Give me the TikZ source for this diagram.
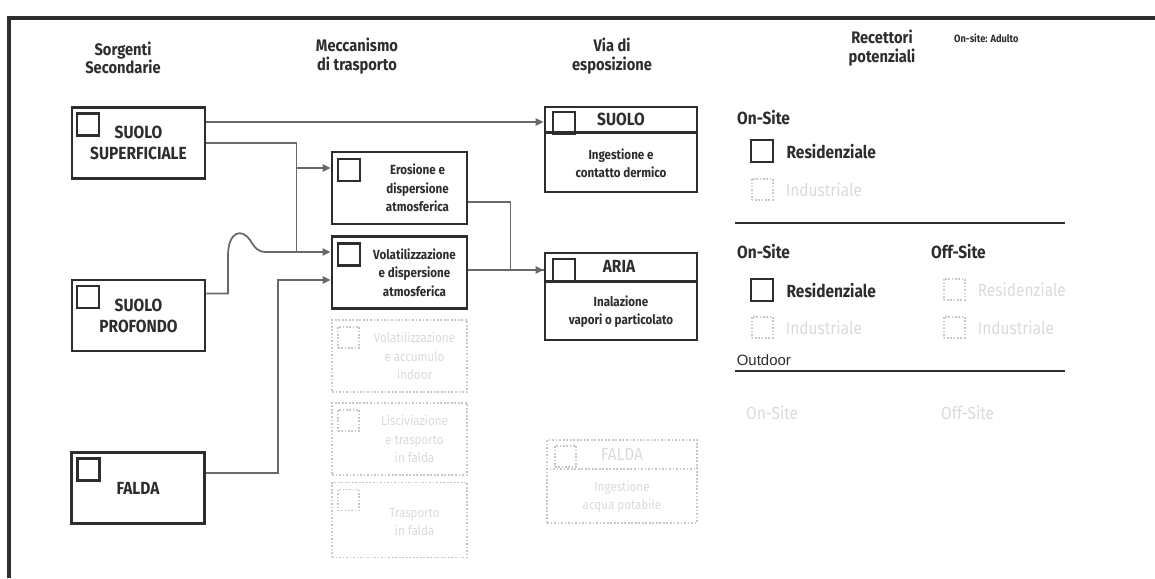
\documentclass[tikz,border=0pt]{standalone}
\usepackage{fontspec}
\setmainfont{Fira Sans}[FakeStretch=0.88]
\newfontfamily\arialfont{Liberation Sans}
\usetikzlibrary{arrows.meta,positioning,calc}
\definecolor{boxGray}{RGB}{45,45,45}
\definecolor{textGray}{RGB}{45,45,45}
\definecolor{lineGray}{RGB}{105,105,105}
\definecolor{fadeGray}{RGB}{200,200,200}
\definecolor{fadeText}{RGB}{218,218,218}

\begin{document}
\begin{tikzpicture}[x=0.02cm, y=-0.02cm, >={Triangle[length=4.5pt, width=4pt]},
    hdr/.style={align=center, font=\fontsize{9.5}{10.5}\selectfont\bfseries, text=textGray},
    srcbox/.style={draw=boxGray, line width=1.6pt, minimum width=2.66cm, minimum height=1.42cm, align=center, font=\fontsize{10}{12}\selectfont\bfseries, text=textGray},
    mechbox/.style={draw=boxGray, line width=1.6pt, minimum width=2.7cm, minimum height=1.44cm},
    fadebox/.style={draw=fadeGray, densely dotted, line width=1pt, minimum width=2.7cm, minimum height=1.44cm},
    expbox/.style={draw=boxGray, line width=1.6pt, minimum width=3.04cm},
    chk/.style={draw=boxGray, line width=1.4pt, minimum size=0.44cm, inner sep=0, anchor=north west},
    fadechk/.style={draw=fadeGray, densely dotted, line width=0.9pt, minimum size=0.42cm, inner sep=0, anchor=north west},
    smalltxt/.style={align=center, font=\fontsize{7.5}{10.5}\selectfont\bfseries, text=textGray},
    fadetxt/.style={align=center, font=\fontsize{7.5}{10.5}\selectfont, text=fadeText},
    bigtxt/.style={font=\fontsize{10}{12}\selectfont\bfseries, text=textGray},
    rcp/.style={anchor=west, font=\fontsize{10}{12}\selectfont\bfseries, text=textGray},
    rcpfade/.style={anchor=west, font=\fontsize{10}{12}\selectfont, text=fadeText},
    conn/.style={draw=lineGray, line width=1pt},
  ]
  \useasboundingbox (0,0) rectangle (1155,578);
  \draw[boxGray, line width=1.8pt] (9,578) -- (9,18) -- (1155,18);

  % column titles
  \node[hdr] (h-src) at (123,58) {Sorgenti\\Secondarie};
  \node[hdr] (h-mech) at (357,56) {Meccanismo\\di trasporto};
  \node[hdr] (h-exp) at (612,56) {Via di\\esposizione};
  \node[hdr] (h-rec) at (882,48) {Recettori\\potenziali};
  \node[anchor=west, font=\fontsize{6}{7}\selectfont\bfseries, text=textGray] (h-adult) at (948,38) {On-site: Adulto};

  % secondary sources
  \node[srcbox] (sup) at (138.5,143) {SUOLO\\SUPERFICIALE};
  \node[srcbox] (prof) at (138.5,315.5) {SUOLO\\PROFONDO};
  \node[srcbox] (falda) at (138,488) {FALDA};
  \node[chk] (sup-c) at ($(sup.north west)+(5,6)$) {};
  \node[chk] (prof-c) at ($(prof.north west)+(5,6)$) {};
  \node[chk] (falda-c) at ($(falda.north west)+(6,6)$) {};

  % transport mechanisms
  \node[mechbox] (eros) at (399.5,188) {};
  \node[mechbox] (vola) at (399.5,272.5) {};
  \node[chk] (eros-c) at ($(eros.north west)+(6,7)$) {};
  \node[chk] (vola-c) at ($(vola.north west)+(6,7)$) {};
  \node[smalltxt] (eros-t) at ($(eros.center)+(18,0)$) {Erosione e\\dispersione\\atmosferica};
  \node[smalltxt] (vola-t) at ($(vola.center)+(15,0)$) {Volatilizzazione\\e dispersione\\atmosferica};
  \node[fadebox] (mech3) at (399.5,356) {};
  \node[fadebox] (mech4) at (399.5,439) {};
  \node[fadebox, minimum height=1.5cm] (mech5) at (399.5,520) {};
  \node[fadechk] (mech3-c) at ($(mech3.north west)+(6,7)$) {};
  \node[fadechk] (mech4-c) at ($(mech4.north west)+(6,7)$) {};
  \node[fadechk] (mech5-c) at ($(mech5.north west)+(6,7)$) {};
  \node[fadetxt] (mech3-t) at ($(mech3.center)+(15,0)$) {Volatilizzazione\\e accumulo\\indoor};
  \node[fadetxt] (mech4-t) at ($(mech4.center)+(15,0)$) {Lisciviazione\\e trasporto\\in falda};
  \node[fadetxt] (mech5-t) at ($(mech5.center)+(15,2)$) {Trasporto\\in falda};

  % exposure routes
  \node[expbox, minimum height=1.7cm] (esuolo) at (621,149.5) {};
  \node[expbox, minimum height=1.74cm] (earia) at (621,296.5) {};
  \node[draw=fadeGray, densely dotted, line width=1pt, minimum width=3.0cm, minimum height=1.66cm] (efalda) at (622,481.5) {};
  \draw[boxGray, line width=1.6pt] ($(esuolo.north west)+(0,27)$) -- ($(esuolo.north east)+(0,27)$);
  \draw[boxGray, line width=1.6pt] ($(earia.north west)+(0,30)$) -- ($(earia.north east)+(0,30)$);
  \draw[fadeGray, densely dotted, line width=1pt] ($(efalda.north west)+(0,30)$) -- ($(efalda.north east)+(0,30)$);
  \node[chk] (esuolo-c) at ($(esuolo.north west)+(8,5)$) {};
  \node[chk] (earia-c) at ($(earia.north west)+(8,6)$) {};
  \node[fadechk] (efalda-c) at ($(efalda.north west)+(8,6)$) {};
  \node[bigtxt] (esuolo-h) at ($(esuolo.north)+(0,14)$) {SUOLO};
  \node[bigtxt] (earia-h) at ($(earia.north)+(-2,15)$) {ARIA};
  \node[fadetxt, font=\fontsize{10}{12}\selectfont] (efalda-h) at ($(efalda.north)+(0,15)$) {FALDA};
  \node[smalltxt] (esuolo-t) at ($(esuolo.center)+(0,14)$) {Ingestione e\\contatto dermico};
  \node[smalltxt] (earia-t) at ($(earia.center)+(0,15)$) {Inalazione\\vapori o particolato};
  \node[fadetxt] (efalda-t) at ($(efalda.center)+(0,15)$) {Ingestione\\acqua potabile};

  % potential receptors
  \node[rcp] (on1) at (731,118) {On-Site};
  \node[chk] (on1-c) at (750,139) {};
  \node[rcp] (on1-r) at ($(on1-c.east)+(6,0)$) {Residenziale};
  \node[fadechk] (on1-fc) at (751,178) {};
  \node[rcpfade] (on1-f) at ($(on1-fc.east)+(6,0)$) {Industriale};
  \draw[boxGray, line width=1.3pt] (735,223) -- (1065,223);

  \node[rcp] (on2) at (731,252) {On-Site};
  \node[rcp] (off2) at (925,252) {Off-Site};
  \node[chk] (on2-c) at (750,278) {};
  \node[rcp] (on2-r) at ($(on2-c.east)+(6,0)$) {Residenziale};
  \node[fadechk] (on2-fc) at (751,316) {};
  \node[rcpfade] (on2-f) at ($(on2-fc.east)+(6,0)$) {Industriale};
  \node[fadechk] (off2-rc) at (943,278) {};
  \node[rcpfade] (off2-r) at ($(off2-rc.east)+(6,0)$) {Residenziale};
  \node[fadechk] (off2-fc) at (943,316) {};
  \node[rcpfade] (off2-f) at ($(off2-fc.east)+(6,0)$) {Industriale};

  \node[anchor=south west, inner sep=2pt, font=\arialfont\fontsize{8.5}{10}\selectfont, text=textGray] (outd) at (733,370) {Outdoor};
  \draw[boxGray, line width=1.3pt] (735,371) -- (1065,371);
  \node[rcpfade] (on3) at (740,413) {On-Site};
  \node[rcpfade] (off3) at (935,413) {Off-Site};

  % connectors
  \coordinate (s1) at ($(sup.east)+(0,-21)$);
  \coordinate (ein) at ($(eros.west)+(0,-20)$);
  \coordinate (vin) at ($(vola.west)+(0,-20.5)$);
  \coordinate (vin2) at ($(vola.west)+(0,7.5)$);
  \coordinate (ain) at ($(earia.west)+(0,-26.5)$);

  \draw[conn, ->] (s1) -- (s1 -| esuolo.west);
  \draw[conn] (sup.east) -- ++(90,0) coordinate (j1) -- (j1 |- vin);
  \draw[conn, ->] (j1 |- ein) -- (ein);
  \draw[conn, ->] ($(prof.east)+(0,-22)$) -- (228,293.5) -- (228,256)
     .. controls (228,231) and (242,228) .. (250,240)
     .. controls (255,248) and (258,252) .. (266,252) -- (vin);
  \draw[conn, ->] ($(falda.east)+(0,-15)$) -- ++(72,0) |- (vin2);
  \draw[conn] ($(eros.east)+(0,14)$) -- ++(42,0) |- (ain);
  \draw[conn, ->] (ain -| vola.east) -- (ain);
\end{tikzpicture}
\end{document}
